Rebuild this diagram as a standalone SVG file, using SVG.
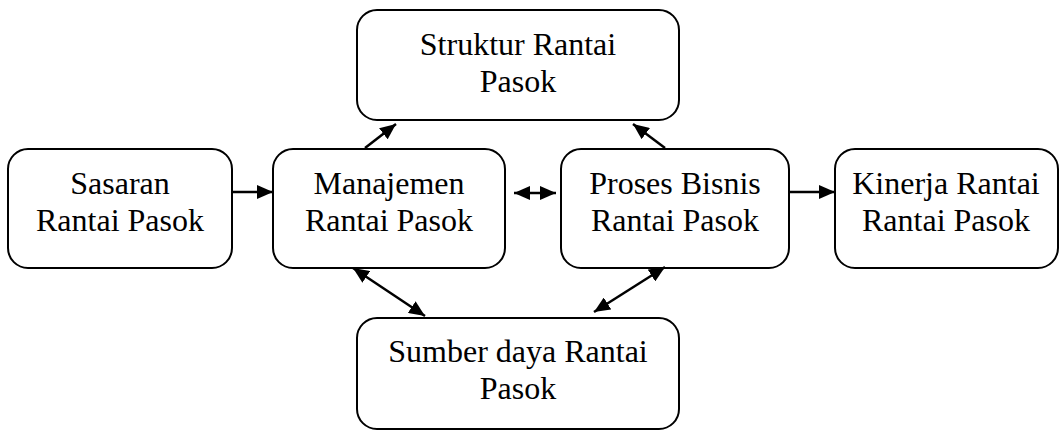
<svg xmlns="http://www.w3.org/2000/svg" width="1064" height="432" viewBox="0 0 1064 432">
<style>
.box{fill:#fff;stroke:#000;stroke-width:2}
.t{font-family:'Liberation Serif','Times New Roman',serif;font-size:32px;text-anchor:middle;fill:#000}
.c{stroke:#000;stroke-width:2.5;fill:none}
</style>
<defs>
<marker id="ah" viewBox="0 0 16 14" refX="16" refY="7" markerWidth="16" markerHeight="14" markerUnits="userSpaceOnUse" orient="auto-start-reverse">
<path d="M0,0 L16,7 L0,14 z" fill="#000"/>
</marker>
</defs>
<rect width="1064" height="432" fill="#fff"/>
<g id="struktur"><rect class="box" x="357" y="10" width="322" height="110" rx="20"/><text class="t" x="518" y="55">Struktur Rantai</text><text class="t" x="518" y="92">Pasok</text></g>
<g id="sasaran"><rect class="box" x="8" y="149" width="224" height="119" rx="20"/><text class="t" x="120" y="194">Sasaran</text><text class="t" x="120" y="231">Rantai Pasok</text></g>
<g id="manajemen"><rect class="box" x="273" y="149" width="232" height="119" rx="20"/><text class="t" x="389" y="194">Manajemen</text><text class="t" x="389" y="231">Rantai Pasok</text></g>
<g id="proses"><rect class="box" x="561" y="149" width="228" height="119" rx="20"/><text class="t" x="675" y="194">Proses Bisnis</text><text class="t" x="675" y="231">Rantai Pasok</text></g>
<g id="kinerja"><rect class="box" x="835" y="149" width="223" height="119" rx="20"/><text class="t" x="946" y="194">Kinerja Rantai</text><text class="t" x="946" y="231">Rantai Pasok</text></g>
<g id="sumber"><rect class="box" x="357" y="318" width="322" height="111" rx="20"/><text class="t" x="518" y="362">Sumber daya Rantai</text><text class="t" x="518" y="399">Pasok</text></g>
<g id="connectors">
<line class="c" x1="232" y1="192" x2="273" y2="192" marker-end="url(#ah)"/>
<line class="c" x1="514" y1="193" x2="556" y2="193" marker-start="url(#ah)" marker-end="url(#ah)"/>
<line class="c" x1="789" y1="192" x2="835" y2="192" marker-end="url(#ah)"/>
<line class="c" x1="365" y1="148" x2="396" y2="124" marker-end="url(#ah)"/>
<line class="c" x1="665" y1="148" x2="633" y2="124" marker-end="url(#ah)"/>
<line class="c" x1="353" y1="268" x2="425" y2="316" marker-start="url(#ah)" marker-end="url(#ah)"/>
<line class="c" x1="665" y1="267" x2="594" y2="312" marker-start="url(#ah)" marker-end="url(#ah)"/>
</g>
</svg>
